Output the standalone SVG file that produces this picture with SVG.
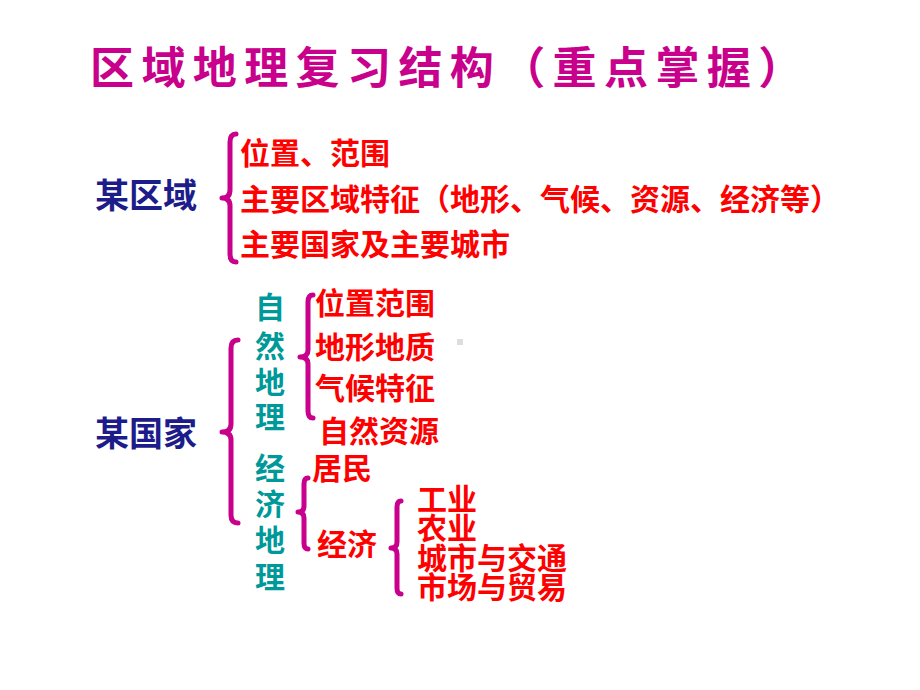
<svg xmlns="http://www.w3.org/2000/svg" width="920" height="690" viewBox="0 0 920 690">
<style>
.title{font-family:"Noto Sans CJK SC","Liberation Sans",sans-serif;font-weight:bold;font-size:44px;fill:#C8008C;text-anchor:middle}
.head{font-family:"Noto Sans CJK SC","Liberation Sans",sans-serif;font-weight:bold;font-size:34px;fill:#1C1C8A}
.item{font-family:"Noto Sans CJK SC","Liberation Sans",sans-serif;font-weight:bold;font-size:30px;fill:#FF0000}
.teal{font-family:"Noto Sans CJK SC","Liberation Sans",sans-serif;font-weight:bold;font-size:30px;fill:#009999;text-anchor:middle}
.brace{fill:none;stroke:#C8008C;stroke-width:5;stroke-linecap:round;stroke-linejoin:round}
</style>
<rect width="920" height="690" fill="#ffffff"/>
<text class="title" x="112 163.4 214.8 266.2 317.6 369 420.4 471.8 523.2 574.6 626 677.4 728.8 780.2" y="84">区域地理复习结构（重点掌握）</text>
<g id="connectors">
<path class="brace" d="M236,134 Q230,134 230,142 L230,190 Q230,198 222,198 Q230,198 230,206 L230,254 Q230,262 236,262"/>
<path class="brace" d="M238,340 Q231,340 231,348 L231,424 Q231,432 222,432 Q231,432 231,440 L231,515 Q231,523 238,523"/>
<path class="brace" d="M313,295 Q308,295 308,302 L308,350 Q308,357 300,357 Q308,357 308,364 L308,411 Q308,418 313,418"/>
<path class="brace" d="M308,478 Q304,478 304,484 L304,506 Q304,512 298,512 Q304,512 304,518 L304,543 Q304,549 308,549"/>
<path class="brace" d="M401,501 Q397,501 397,507 L397,542 Q397,548 391,548 Q397,548 397,554 L397,588 Q397,594 401,594"/>
</g>
<g id="region">
<text class="head" x="95" y="208">某区域</text>
</g>
<g id="region-items">
<text class="item" x="240" y="164">位置、范围</text>
<text class="item" x="240" y="210">主要区域特征（地形、气候、资源、经济等）</text>
<text class="item" x="240" y="255">主要国家及主要城市</text>
</g>
<g id="country">
<text class="head" x="95" y="446">某国家</text>
</g>
<g id="natural">
<text class="teal" x="270" y="318">自</text>
<text class="teal" x="270" y="357">然</text>
<text class="teal" x="270" y="393">地</text>
<text class="teal" x="270" y="428">理</text>
</g>
<g id="natural-items">
<text class="item" x="315" y="314">位置范围</text>
<text class="item" x="315" y="358">地形地质</text>
<text class="item" x="315" y="399">气候特征</text>
<text class="item" x="319" y="442">自然资源</text>
</g>
<g id="economic">
<text class="teal" x="270" y="479">经</text>
<text class="teal" x="270" y="515">济</text>
<text class="teal" x="270" y="551">地</text>
<text class="teal" x="270" y="588">理</text>
</g>
<g id="economic-items">
<text class="item" x="312" y="479">居民</text>
<text class="item" x="317" y="555">经济</text>
</g>
<g id="economy-items">
<text class="item" x="417" y="510">工业</text>
<text class="item" x="417" y="539">农业</text>
<text class="item" x="417" y="569">城市与交通</text>
<text class="item" x="417" y="598">市场与贸易</text>
</g>
<rect x="457" y="339" width="6" height="6" fill="#DDDDDD"/>
</svg>
